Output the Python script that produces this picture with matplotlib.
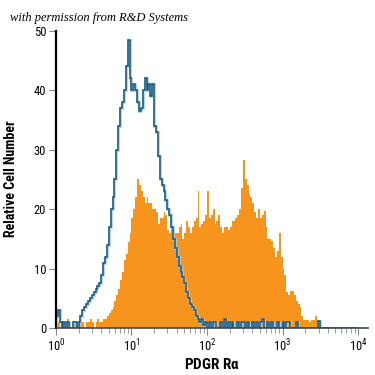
import numpy as np
import matplotlib
matplotlib.use('Agg')
import matplotlib.pyplot as plt
from matplotlib import font_manager

# Datos: cuentas por canal, 40 canales por decada (10^0 a 10^4)
canales_por_decada = 40
decadas = 4

control = [2, 3, 1, 0, 1, 0, 1, 0, 0, 1, 1, 0, 1, 2, 3, 3.5, 4, 4.5, 5, 5.5,
           6, 6.5, 7, 7.5, 9, 11, 12, 14, 17, 20, 22, 25, 30, 34, 37, 38, 40, 44, 48.5, 42,
           40, 41, 40, 38, 36.5, 37, 40, 42, 40, 41, 39, 41, 34, 33, 29, 25, 24, 23, 21.5, 20,
           19, 17, 15, 13.5, 12, 10.5, 9.5, 8.5, 7.5, 6, 5, 4, 3.5, 3, 2, 1.5, 1, 1.5, 0.5, 1,
           0, 1, 0, 1, 1, 0, 0, 1, 0, 1.5, 0, 1, 0, 1, 0, 0, 1, 0, 1, 1,
           0, 1, 0, 0, 1, 0, 1, 0, 1, 1.5, 0, 0, 1, 0, 1, 0, 0, 1, 0, 0,
           1, 0, 1, 1, 0, 0, 0, 1, 0, 0, 0, 0, 0, 0, 0, 0, 0, 0, 0, 1.2,
           0, 0, 0, 0, 0, 0, 0, 0, 0, 0, 0, 0, 0, 0, 0, 0, 0, 0, 0, 0]

pdgfra = [0, 1, 0, 1, 1, 0, 1.5, 1, 0, 1, 1, 0, 1, 1.5, 1, 0, 1, 1, 1.5, 1,
          0, 1, 1.5, 1, 1, 1.5, 1.5, 2, 2.5, 3, 3.5, 4.5, 5.5, 6.5, 8, 9.5, 11.5, 12.5, 14.5, 16,
          18.5, 20, 22, 25, 24, 23, 22, 21, 22, 21, 21, 20, 20, 19.5, 17.5, 18.5, 18.5, 19.5, 19, 16.5,
          16, 17, 16, 16, 16, 17, 17.5, 15, 16, 18, 17, 16, 17, 18, 18.5, 23, 17, 17.5, 18, 19,
          23, 18.5, 19, 20, 17.5, 18, 19, 17, 16, 17, 17, 16.5, 17, 18, 18, 18.5, 19, 20, 23.5, 28.3,
          25, 24, 22.5, 22, 21, 19.5, 18.5, 20, 18.5, 19, 19.7, 17, 15, 15, 14.7, 13.5, 12, 13, 16, 12,
          10, 9, 6, 5.5, 6.3, 6.3, 5.5, 4.5, 4, 3.5, 2, 1.3, 1.3, 1.3, 1, 1.3, 1.3, 2, 1.3, 0,
          0, 0, 0, 0, 0, 0, 0, 0, 0, 0, 0, 0, 0, 0, 0, 0, 0, 0, 0, 0]

y_ticks = [0, 10, 20, 30, 40, 50]
x_ticks = [1, 10, 100, 1000, 10000]
x_labels = ['$10^0$', '$10^1$', '$10^2$', '$10^3$', '$10^4$']

bordes = np.logspace(0, decadas, canales_por_decada * decadas + 1)

# Buscar una fuente estrecha si la hay
fuentes = font_manager.fontManager.ttflist
nombres = {f.name for f in fuentes}
estrecha = None
for n in ['Liberation Sans Narrow', 'Roboto Condensed', 'Open Sans Condensed']:
    if n in nombres:
        estrecha = n
        break
ancho = 'normal'
if estrecha is None:
    estrecha = 'Liberation Sans'
    if any(f.name == 'DejaVu Sans' and f.stretch == 'condensed' for f in fuentes):
        estrecha = 'DejaVu Sans'
        ancho = 'condensed'

plt.rcParams['font.family'] = [estrecha, 'DejaVu Sans']
plt.rcParams['font.stretch'] = ancho
plt.rcParams['mathtext.default'] = 'regular'

fig = plt.figure(figsize=(3.75, 3.75), dpi=100)
ax = fig.add_axes([0.149, 0.1253, 0.832, 0.7974])

ax.stairs(pdgfra, bordes, fill=True, color='#F7941D', linewidth=0)
ax.stairs(control, bordes, color='#a6d2ea', linewidth=1.9)
ax.stairs(control, bordes, color='#1d5478', linewidth=1.1)

ax.set_xscale('log')
ax.set_xlim(1, 10 ** 4.13)
ax.set_ylim(0, 50.3)

ax.set_xticks(x_ticks)
ax.set_xticklabels(x_labels, fontsize=9)
ax.set_yticks(y_ticks)
ax.set_yticklabels([str(v) for v in y_ticks], fontsize=9)

ax.tick_params(axis='both', which='major', direction='out', length=5, color='#888888', pad=2)
ax.tick_params(axis='x', which='minor', direction='out', length=3.5, color='#888888')

for lado in ['top', 'right']:
    ax.spines[lado].set_visible(False)
ax.spines['left'].set_color('black')
ax.spines['left'].set_linewidth(1.6)
ax.spines['left'].set_bounds(0, 50)
ax.spines['bottom'].set_color('#3d4a55')
ax.spines['bottom'].set_linewidth(1.2)

ax.set_xlabel(r'PDGR R$\alpha$', fontsize=11, fontweight='bold', labelpad=2)
ax.set_ylabel('Relative Cell Number', fontsize=10, fontweight='bold', labelpad=11)

fig.text(0.027, 0.945, 'with permission from R&D Systems', fontsize=9,
         family=['Liberation Serif', 'DejaVu Serif'], style='italic', stretch='normal')

fig.savefig('out.png', dpi=100)
